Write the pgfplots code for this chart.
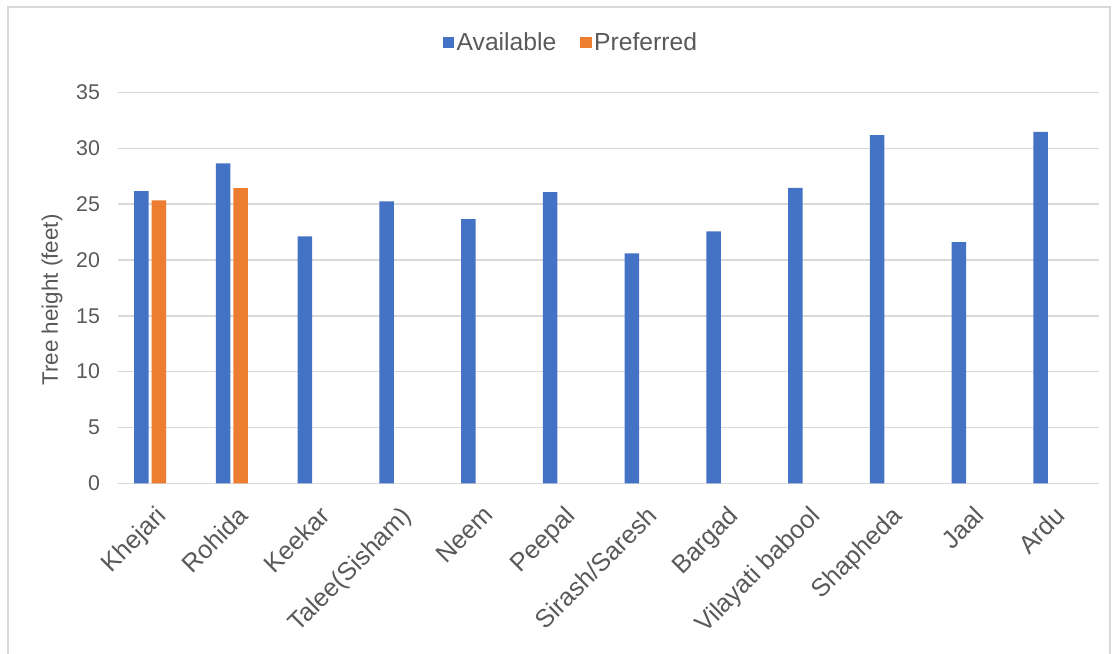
\documentclass[border=0pt]{standalone}
\usepackage{pgfplots}
\pgfplotsset{compat=1.18}
\usepackage{fontspec}
\setmainfont{Liberation Sans}
\definecolor{txt}{HTML}{595959}
\definecolor{gridc}{HTML}{D9D9D9}
\definecolor{cblue}{HTML}{4472C4}
\definecolor{corange}{HTML}{ED7D31}
\begin{document}
\begin{tikzpicture}
\useasboundingbox (0,0) rectangle (837pt,489.75pt);
\draw[gridc, line width=1pt] (6pt,-2pt) -- (6pt,484.5pt) -- (832.5pt,484.5pt) -- (832.5pt,-2pt);
\begin{axis}[
  at={(88.5pt,127.3pt)}, anchor=south west,
  scale only axis, width=735.75pt, height=293.1pt,
  xmin=-0.5, xmax=11.5, ymin=0, ymax=35,
  ytick={0,5,...,35},
  xtick={0,...,11},
  xticklabels={Khejari,Rohida,Keekar,Talee(Sisham),Neem,Peepal,Sirash/Saresh,Bargad,Vilayati babool,Shapheda,Jaal,Ardu},
  axis line style={draw=none},
  major tick length=0pt,
  xmajorgrids=false,
  ymajorgrids=true,
  major grid style={draw=gridc, line width=1.1pt},
  /pgf/number format/assume math mode=true,
  yticklabel style={font=\fontsize{16}{18}\selectfont, text=txt, xshift=-10pt},
  xticklabel style={font=\fontsize{19}{21}\selectfont, text=txt, xshift=-3.2pt, yshift=-11pt, rotate=45, anchor=north east},
  ylabel={Tree height (feet)},
  ylabel style={font=\fontsize{16.8}{18}\selectfont, text=txt, at={(axis description cs:-0.0673,0.469)}, anchor=center, rotate=0},
  legend style={at={(axis description cs:0.462,1.127)}, anchor=center, draw=none, fill=none,
    font=\fontsize{18.5}{20}\selectfont, text=txt, legend columns=2,
    /tikz/every even column/.append style={column sep=16pt}},
  legend image code/.code={\fill[#1] (0pt,-4.2pt) rectangle (8.4pt,4.2pt);},
]
\addplot[ybar, fill=cblue, draw=none, bar width=0.177, bar shift=-0.214] coordinates {
(0,26.17) (1,28.65) (2,22.11) (3,25.25) (4,23.66) (5,26.07) (6,20.6) (7,22.55) (8,26.46) (9,31.19) (10,21.6) (11,31.46)};
\addlegendentry{Available}
\addplot[ybar, fill=corange, draw=none, bar width=0.177, bar shift=0] coordinates {
(0,25.33) (1,26.44)};
\addlegendentry{Preferred}
\end{axis}
\end{tikzpicture}
\end{document}
